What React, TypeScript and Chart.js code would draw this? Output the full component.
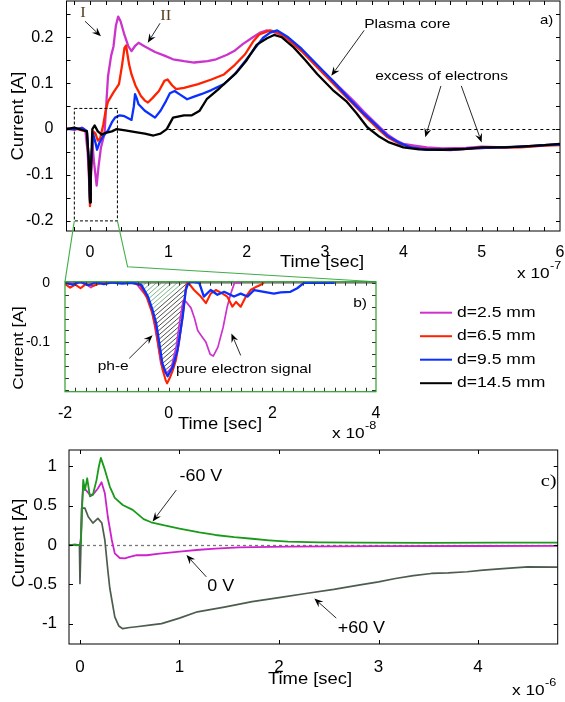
import React, { useEffect, useRef } from "react";
import { Chart, registerables } from "chart.js";
Chart.register(...registerables);

type P = [number, number];

const W = 565;
const H = 702;
const FONT = "'Liberation Sans', Arial, sans-serif";
const SERIF = "'Liberation Serif', 'Times New Roman', serif";

// ---------------- Panel a) time in units of 1e-7 s, current in A
const A_D25: P[] = [[-0.3,0.002],[-0.2,-0.002],[-0.1,0.003],[-0.06,-0.002],[-0.03,-0.05],[0,-0.15],[0.03,-0.03],[0.05,-0.07],[0.085,-0.123],[0.11,-0.08],[0.14,-0.04],[0.185,-0.01],[0.21,0.06],[0.23,0.115],[0.27,0.16],[0.3,0.18],[0.33,0.225],[0.36,0.245],[0.39,0.235],[0.44,0.205],[0.49,0.18],[0.53,0.17],[0.58,0.182],[0.62,0.188],[0.7,0.18],[0.83,0.168],[0.95,0.16],[1.06,0.152],[1.2,0.148],[1.33,0.145],[1.5,0.148],[1.61,0.152],[1.75,0.162],[1.84,0.17],[1.95,0.185],[2.07,0.199],[2.17,0.21],[2.26,0.215],[2.33,0.212],[2.45,0.205],[2.55,0.193],[2.67,0.177],[2.8,0.155],[2.99,0.123],[3.15,0.097],[3.36,0.062],[3.5,0.037],[3.68,0.007],[3.8,-0.012],[3.91,-0.025],[4.0,-0.032],[4.14,-0.036],[4.3,-0.04],[4.5,-0.042],[4.8,-0.041],[5.0,-0.038],[5.3,-0.04],[5.6,-0.038],[5.8,-0.035],[6.0,-0.033]];
const A_D65: P[] = [[-0.3,0.0],[-0.2,0.002],[-0.1,-0.003],[-0.04,-0.005],[-0.015,-0.08],[0.0,-0.168],[0.015,-0.08],[0.04,-0.005],[0.07,-0.01],[0.1,-0.025],[0.13,-0.02],[0.17,0.01],[0.2,0.04],[0.23,0.06],[0.3,0.08],[0.37,0.098],[0.41,0.14],[0.44,0.177],[0.46,0.182],[0.5,0.14],[0.53,0.119],[0.58,0.095],[0.65,0.072],[0.7,0.062],[0.74,0.058],[0.8,0.068],[0.88,0.083],[0.95,0.105],[0.99,0.108],[1.05,0.095],[1.1,0.087],[1.2,0.09],[1.38,0.098],[1.55,0.108],[1.71,0.119],[1.85,0.14],[1.98,0.163],[2.08,0.19],[2.16,0.206],[2.3,0.215],[2.4,0.21],[2.5,0.2],[2.7,0.17],[2.9,0.135],[3.1,0.1],[3.3,0.065],[3.5,0.03],[3.65,0.005],[3.8,-0.018],[3.95,-0.032],[4.1,-0.04],[4.3,-0.044],[4.6,-0.046],[4.9,-0.042],[5.2,-0.04],[5.5,-0.04],[5.8,-0.036],[6.0,-0.035]];
const A_D95: P[] = [[-0.3,0.0],[-0.2,0.0],[-0.1,0.002],[-0.04,-0.004],[-0.015,-0.07],[0.0,-0.155],[0.015,-0.07],[0.04,-0.01],[0.07,-0.03],[0.09,-0.045],[0.12,-0.03],[0.17,-0.015],[0.23,-0.003],[0.28,0.015],[0.32,0.025],[0.38,0.03],[0.44,0.028],[0.53,0.02],[0.56,0.05],[0.575,0.076],[0.6,0.065],[0.62,0.054],[0.7,0.04],[0.83,0.025],[0.9,0.04],[0.97,0.061],[1.02,0.078],[1.08,0.083],[1.15,0.075],[1.24,0.065],[1.32,0.07],[1.42,0.076],[1.55,0.085],[1.71,0.098],[1.85,0.12],[1.98,0.148],[2.1,0.175],[2.21,0.199],[2.3,0.21],[2.39,0.215],[2.53,0.2],[2.7,0.175],[2.9,0.14],[3.1,0.105],[3.3,0.068],[3.5,0.033],[3.64,0.011],[3.8,-0.015],[3.95,-0.03],[4.1,-0.04],[4.3,-0.045],[4.6,-0.045],[4.9,-0.042],[5.2,-0.04],[5.5,-0.038],[5.8,-0.035],[6.0,-0.034]];
const A_D145: P[] = [[-0.3,0.0],[-0.2,0.003],[-0.1,-0.002],[-0.04,-0.005],[-0.015,-0.07],[0.0,-0.16],[0.01,-0.1],[0.03,0.0],[0.06,0.008],[0.1,-0.005],[0.15,-0.012],[0.2,-0.008],[0.28,-0.005],[0.34,0.0],[0.45,-0.003],[0.6,-0.007],[0.7,-0.01],[0.81,-0.014],[0.9,-0.01],[0.98,0.0],[1.06,0.025],[1.2,0.03],[1.3,0.03],[1.4,0.04],[1.49,0.065],[1.66,0.09],[1.87,0.123],[2.0,0.15],[2.13,0.184],[2.26,0.198],[2.35,0.205],[2.45,0.2],[2.6,0.178],[2.75,0.15],[2.9,0.12],[3.1,0.085],[3.27,0.061],[3.4,0.035],[3.54,0.004],[3.68,-0.015],[3.82,-0.029],[4.0,-0.04],[4.2,-0.044],[4.5,-0.045],[4.8,-0.043],[5.0,-0.04],[5.3,-0.04],[5.6,-0.037],[5.8,-0.035],[6.0,-0.032]];
const A_X_RANGE = [-0.3, 6];
const A_Y_RANGE = [-0.222, 0.279];
const A_X_LABELS = [0, 1, 2, 3, 4, 5, 6];
const A_Y_LABELS = [-0.2, -0.1, 0, 0.1, 0.2];
const A_ZOOM_BOX = [-0.2, 0.35, -0.2, 0.045];
const A_ZERO_LINE = [1.0, 6];
const A_CONNECT_KINK: P = [0.48, -0.3];
const A_TEXT = [
  { t: "Plasma core", x: 3.5, y: 0.228 },
  { t: "excess of electrons", x: 3.64, y: 0.116 },
];
const A_ROMAN = [
  { t: "I", x: -0.09, y: 0.252 },
  { t: "II", x: 0.968, y: 0.246 },
];
const A_ARROWS = [
  [-0.064, 0.235, 0.14, 0.202],
  [0.894, 0.2305, 0.737, 0.188],
  [3.5, 0.215, 3.08, 0.116],
  [4.48, 0.094, 4.28, -0.018],
  [4.74, 0.094, 5.0, -0.029],
];

// ---------------- Panel b) time in units of 1e-8 s
const B_D25: P[] = [[-2,0.0],[-1.8,0.002],[-1.6,-0.002],[-1.5,-0.008],[-1.4,-0.002],[-1.2,0.001],[-1.0,0.0],[-0.8,0.0],[-0.63,0.0],[-0.53,-0.012],[-0.4,-0.025],[-0.34,-0.04],[-0.28,-0.068],[-0.21,-0.102],[-0.15,-0.136],[-0.08,-0.15],[-0.04,-0.152],[0.05,-0.143],[0.15,-0.105],[0.22,-0.06],[0.28,-0.03],[0.34,-0.032],[0.43,-0.042],[0.5,-0.06],[0.56,-0.08],[0.64,-0.09],[0.72,-0.1],[0.8,-0.12],[0.86,-0.123],[0.95,-0.108],[1.05,-0.075],[1.13,-0.04],[1.2,-0.018],[1.27,0.0],[1.4,0.0]];
const B_D65: P[] = [[-2,-0.002],[-1.9,-0.008],[-1.8,-0.003],[-1.7,-0.009],[-1.6,-0.002],[-1.45,-0.005],[-1.3,0.0],[-1.0,0.001],[-0.7,0.0],[-0.55,-0.004],[-0.42,-0.025],[-0.32,-0.05],[-0.25,-0.075],[-0.19,-0.11],[-0.12,-0.145],[-0.06,-0.163],[-0.03,-0.169],[0.02,-0.16],[0.08,-0.147],[0.14,-0.13],[0.2,-0.1],[0.27,-0.055],[0.33,-0.01],[0.36,0.002],[0.49,-0.012],[0.62,-0.023],[0.72,-0.034],[0.81,-0.018],[0.91,-0.012],[1.04,-0.018],[1.13,-0.023],[1.23,-0.04],[1.3,-0.032],[1.39,-0.04],[1.49,-0.023],[1.58,-0.012],[1.68,-0.007],[1.78,-0.003],[1.84,0.0]];
const B_D95: P[] = [[-2,0.0],[-1.85,-0.003],[-1.7,0.002],[-1.55,-0.004],[-1.4,0.001],[-1.25,-0.002],[-1.1,0.001],[-0.9,-0.001],[-0.7,0.0],[-0.53,-0.003],[-0.4,-0.023],[-0.31,-0.046],[-0.24,-0.068],[-0.18,-0.102],[-0.12,-0.136],[-0.05,-0.152],[-0.02,-0.157],[0.08,-0.141],[0.17,-0.113],[0.27,-0.057],[0.33,-0.012],[0.38,0.0],[0.45,0.002],[0.59,0.0],[0.68,-0.023],[0.81,-0.012],[0.94,-0.02],[1.07,-0.015],[1.26,-0.023],[1.39,-0.018],[1.52,-0.023],[1.65,-0.012],[1.84,-0.015],[2.03,-0.018],[2.16,-0.016],[2.35,-0.015],[2.48,-0.009],[2.61,0.0],[3.2,0.0]];
const B_X_RANGE = [-2, 4];
const B_Y_RANGE = [-0.183, 0.002];
const B_X_LABELS = [-2, 0, 2, 4];
const B_Y_LABELS = [-0.1, 0];
const B_HATCH_X = [-0.56, 0.36];
const B_HATCH_GREEN: P[] = [[-0.6, 0], [0.3, 0], [-0.3, -0.045]];
const B_TEXT = [
  { t: "ph-e", x: -1.37, y: -0.141 },
  { t: "pure electron signal", x: 0.14, y: -0.145 },
  { t: "b)", x: 3.56, y: -0.034 },
];
const B_ARROWS = [
  [-0.76, -0.127, -0.31, -0.088],
  [1.39, -0.122, 1.21, -0.085],
];
const LEGEND_LABELS = ["d=2.5 mm", "d=6.5 mm", "d=9.5 mm", "d=14.5 mm"];
const SERIES_COLORS = ["#cc33cc", "#ff2200", "#0a30ff", "#000000"];

// ---------------- Panel c) time in units of 1e-6 s
const C_M60: P[] = [[-0.11,0.0],[-0.05,0.005],[0.0,0.0],[0.01,0.05],[0.017,0.28],[0.025,0.6],[0.033,0.83],[0.05,0.7],[0.073,0.85],[0.1,0.62],[0.13,0.64],[0.167,0.83],[0.19,1.0],[0.21,1.11],[0.25,0.96],[0.3,0.745],[0.35,0.6],[0.43,0.51],[0.53,0.447],[0.64,0.33],[0.715,0.29],[0.85,0.25],[1.0,0.21],[1.2,0.16],[1.36,0.128],[1.55,0.1],[1.73,0.08],[1.9,0.06],[2.09,0.043],[2.4,0.035],[2.8,0.03],[3.5,0.028],[4.2,0.03],[4.8,0.03]];
const C_0V: P[] = [[-0.11,0.0],[0.0,0.0],[0.01,0.1],[0.02,0.5],[0.033,0.745],[0.06,0.7],[0.1,0.64],[0.13,0.64],[0.18,0.72],[0.217,0.8],[0.25,0.66],[0.28,0.36],[0.32,0.064],[0.35,-0.106],[0.4,-0.165],[0.45,-0.17],[0.5,-0.15],[0.57,-0.13],[0.67,-0.13],[0.8,-0.11],[1.0,-0.085],[1.2,-0.06],[1.36,-0.045],[1.6,-0.03],[2.09,-0.02],[3.0,-0.015],[4.0,-0.012],[4.8,-0.01]];
const C_P60: P[] = [[-0.11,0.0],[-0.05,0.005],[-0.005,0.0],[0.0,-0.49],[0.008,-0.1],[0.017,0.47],[0.05,0.47],[0.083,0.36],[0.13,0.28],[0.18,0.34],[0.22,0.28],[0.25,0.064],[0.28,-0.32],[0.3,-0.55],[0.35,-0.915],[0.39,-1.03],[0.43,-1.065],[0.5,-1.05],[0.57,-1.04],[0.7,-1.02],[0.82,-1.0],[1.0,-0.93],[1.18,-0.85],[1.45,-0.79],[1.73,-0.72],[2.0,-0.67],[2.27,-0.617],[2.55,-0.565],[2.8,-0.51],[3.0,-0.47],[3.17,-0.426],[3.35,-0.39],[3.53,-0.362],[3.7,-0.355],[3.89,-0.34],[4.05,-0.32],[4.25,-0.3],[4.5,-0.277],[4.8,-0.28]];
const C_X_RANGE = [-0.11, 4.8];
const C_Y_RANGE = [-1.26, 1.21];
const C_X_LABELS = [0, 1, 2, 3, 4];
const C_Y_LABELS = [-1, -0.5, 0, 0.5, 1];
const C_TEXT = [
  { t: "-60 V", x: 1.0, y: 0.872 },
  { t: "0 V", x: 1.28, y: -0.533 },
  { t: "+60 V", x: 2.59, y: -1.06 },
];
const C_PANEL_LABEL = { t: "c)", x: 4.63, y: 0.81 };
const C_ARROWS = [
  [0.968, 0.7, 0.73, 0.3],
  [1.27, -0.405, 1.07, -0.128],
  [2.575, -0.93, 2.355, -0.68],
];

// ---------------- helpers
function txt(ctx: CanvasRenderingContext2D, s: string, x: number, y: number, font: string, opts: any = {}) {
  ctx.save();
  ctx.translate(x, y);
  if (opts.rot) ctx.rotate(opts.rot);
  ctx.scale(opts.sx ?? 1.15, 1);
  ctx.font = font;
  ctx.fillStyle = opts.color ?? "#000";
  ctx.textAlign = opts.align ?? "left";
  ctx.textBaseline = opts.baseline ?? "middle";
  ctx.fillText(s, 0, 0);
  ctx.restore();
}

function arrow(ctx: CanvasRenderingContext2D, x1: number, y1: number, x2: number, y2: number) {
  const a = Math.atan2(y2 - y1, x2 - x1);
  const head = 9, hw = 3.6;
  const c = Math.cos(a), s = Math.sin(a);
  ctx.save();
  ctx.strokeStyle = "#111";
  ctx.fillStyle = "#000";
  ctx.lineWidth = 0.9;
  ctx.beginPath();
  ctx.moveTo(x1, y1);
  ctx.lineTo(x2 - head * 0.7 * c, y2 - head * 0.7 * s);
  ctx.stroke();
  ctx.beginPath();
  ctx.moveTo(x2, y2);
  ctx.lineTo(x2 - head * c + hw * s, y2 - head * s - hw * c);
  ctx.lineTo(x2 - head * 0.65 * c, y2 - head * 0.65 * s);
  ctx.lineTo(x2 - head * c - hw * s, y2 - head * s + hw * c);
  ctx.closePath();
  ctx.fill();
  ctx.restore();
}

function frame(chart: any, color: string, tickColor: string, tickLen = 4, lw = 1) {
  const { ctx, chartArea: ca, scales } = chart;
  ctx.save();
  ctx.strokeStyle = tickColor;
  ctx.lineWidth = 1;
  ctx.beginPath();
  for (const t of scales.x.ticks) {
    const px = Math.round(scales.x.getPixelForValue(t.value)) + 0.5;
    if (px < ca.left + 1 || px > ca.right - 1) continue;
    ctx.moveTo(px, ca.bottom); ctx.lineTo(px, ca.bottom - tickLen);
    ctx.moveTo(px, ca.top); ctx.lineTo(px, ca.top + tickLen);
  }
  for (const t of scales.y.ticks) {
    const py = Math.round(scales.y.getPixelForValue(t.value)) + 0.5;
    if (py < ca.top + 1 || py > ca.bottom - 1) continue;
    ctx.moveTo(ca.left, py); ctx.lineTo(ca.left + tickLen, py);
    ctx.moveTo(ca.right, py); ctx.lineTo(ca.right - tickLen, py);
  }
  ctx.stroke();
  ctx.strokeStyle = color;
  ctx.lineWidth = lw;
  ctx.strokeRect(ca.left, ca.top, ca.right - ca.left, ca.bottom - ca.top);
  ctx.restore();
}

function expLabel(ctx: CanvasRenderingContext2D, x: number, y: number, exp: string) {
  txt(ctx, "x 10", x, y, `15px ${FONT}`, { baseline: "alphabetic" });
  txt(ctx, exp, x + 33, y - 9, `11px ${FONT}`, { baseline: "alphabetic" });
}

function axis(range: number[], step: number, labels: number[], pad: number, isX: boolean, size: number) {
  return {
    type: "linear",
    min: range[0],
    max: range[1],
    grid: { display: false },
    border: { display: false },
    afterBuildTicks: (s: any) => {
      const out: any[] = [];
      const n0 = Math.ceil(s.min / step - 1e-9);
      const n1 = Math.floor(s.max / step + 1e-9);
      for (let i = n0; i <= n1; i++) out.push({ value: +(i * step).toFixed(6) });
      s.ticks = out;
    },
    afterFit: (s: any) => {
      if (isX) s.height = 30; else s.width = 50;
      s.paddingLeft = 0; s.paddingRight = 0; s.paddingTop = 0; s.paddingBottom = 0;
    },
    ticks: {
      autoSkip: false,
      maxRotation: 0,
      minRotation: 0,
      padding: pad,
      color: "#000",
      font: { family: FONT, size },
      callback: (v: number) => (labels.some((m) => Math.abs(m - v) < 1e-9) ? String(+Number(v).toFixed(4)) : ""),
    },
  };
}

function ds(points: P[], color: string, width: number, order: number) {
  return {
    data: points.map(([x, y]) => ({ x, y })),
    borderColor: color,
    borderWidth: width,
    pointRadius: 0,
    tension: 0,
    fill: false,
    order,
    borderJoinStyle: "round",
  };
}

function config(datasets: any[], area: number[], scales: any, plugin: any) {
  const [l, t, r, b] = area;
  return {
    type: "line",
    data: { datasets },
    options: {
      animation: false,
      responsive: false,
      events: [],
      layout: { padding: { left: l - 50, top: t, right: W - r, bottom: H - b - 30 } },
      plugins: { legend: { display: false }, tooltip: { enabled: false } },
      scales,
    },
    plugins: [plugin],
  } as any;
}

export default function App() {
  const refA = useRef<HTMLCanvasElement>(null);
  const refB = useRef<HTMLCanvasElement>(null);
  const refC = useRef<HTMLCanvasElement>(null);

  useEffect(() => {
    // ---------- panel a
    const pluginA = {
      id: "panelA",
      beforeDatasetsDraw(chart: any) {
        const { ctx, scales } = chart;
        const X = (v: number) => scales.x.getPixelForValue(v);
        const Y = (v: number) => scales.y.getPixelForValue(v);
        ctx.save();
        ctx.strokeStyle = "#000";
        ctx.lineWidth = 1;
        ctx.setLineDash([3, 3]);
        ctx.beginPath();
        ctx.moveTo(X(A_ZERO_LINE[0]), Math.round(Y(0)) + 0.5);
        ctx.lineTo(X(A_ZERO_LINE[1]), Math.round(Y(0)) + 0.5);
        ctx.stroke();
        ctx.restore();
      },
      afterDraw(chart: any) {
        const { ctx, scales, chartArea: ca } = chart;
        const X = (v: number) => scales.x.getPixelForValue(v);
        const Y = (v: number) => scales.y.getPixelForValue(v);
        ctx.save();
        ctx.strokeStyle = "#000";
        ctx.lineWidth = 1;
        ctx.setLineDash([3, 2]);
        const [bx0, bx1, by0, by1] = A_ZOOM_BOX;
        ctx.strokeRect(X(bx0), Y(by1), X(bx1) - X(bx0), Y(by0) - Y(by1));
        ctx.restore();
        frame(chart, "#000", "#000");
        for (const a of A_TEXT) txt(ctx, a.t, X(a.x), Y(a.y), `13.5px ${FONT}`);
        for (const a of A_ROMAN) txt(ctx, a.t, X(a.x), Y(a.y), `15px ${SERIF}`, { align: "center", color: "#5a3c1e", sx: 1.1 });
        txt(ctx, "a)", ca.right - 20, ca.top + 19, `13px ${FONT}`);
        for (const a of A_ARROWS) arrow(ctx, X(a[0]), Y(a[1]), X(a[2]), Y(a[3]));
        txt(ctx, "Current [A]", 19, (ca.top + ca.bottom) / 2, `16px ${FONT}`, { rot: -Math.PI / 2, align: "center" });
        txt(ctx, "Time [sec]", 322, ca.bottom + 32, `16px ${FONT}`, { align: "center" });
        expLabel(ctx, 517, ca.bottom + 47, "-7");
      },
    };
    const chartA = new Chart(
      refA.current as HTMLCanvasElement,
      config(
        [
          ds(A_D25, SERIES_COLORS[0], 2.3, 3),
          ds(A_D65, SERIES_COLORS[1], 2.3, 2),
          ds(A_D95, SERIES_COLORS[2], 2.3, 1),
          ds(A_D145, SERIES_COLORS[3], 2.3, 0),
        ],
        [66.5, 1, 560, 231],
        { x: axis(A_X_RANGE, 0.2, A_X_LABELS, 4, true, 16), y: axis(A_Y_RANGE, 0.05, A_Y_LABELS, 5, false, 16) },
        pluginA
      )
    );

    // ---------- panel b
    const pluginB = {
      id: "panelB",
      beforeDatasetsDraw(chart: any) {
        const { ctx, scales } = chart;
        const X = (v: number) => scales.x.getPixelForValue(v);
        const Y = (v: number) => scales.y.getPixelForValue(v);
        const pts = B_D95.filter((p) => p[0] >= B_HATCH_X[0] && p[0] <= B_HATCH_X[1]);
        const top = Y(0);
        const bot = scales.y.bottom;
        const xs0 = X(B_HATCH_X[0]) - 150;
        const xs1 = X(B_HATCH_X[1]) + 10;
        const lines = (color: string) => {
          ctx.strokeStyle = color;
          ctx.lineWidth = 0.8;
          ctx.beginPath();
          for (let x = xs0; x < xs1; x += 5.2) {
            ctx.moveTo(x, bot);
            ctx.lineTo(x + (bot - top) * 1.15, top);
          }
          ctx.stroke();
        };
        const tri = () => {
          B_HATCH_GREEN.forEach((p, i) => (i ? ctx.lineTo(X(p[0]), Y(p[1])) : ctx.moveTo(X(p[0]), Y(p[1]))));
          ctx.closePath();
        };
        ctx.save();
        ctx.beginPath();
        ctx.moveTo(X(B_HATCH_X[0]), top);
        pts.forEach((p) => ctx.lineTo(X(p[0]), Y(p[1])));
        ctx.lineTo(X(B_HATCH_X[1]), top);
        ctx.closePath();
        ctx.clip();
        ctx.save();
        ctx.beginPath();
        tri();
        ctx.clip();
        lines("#5f9f70");
        ctx.restore();
        ctx.beginPath();
        ctx.rect(0, 0, W, H);
        tri();
        ctx.clip("evenodd");
        lines("#222");
        ctx.restore();
        ctx.save();
        ctx.strokeStyle = "#555";
        ctx.lineWidth = 1.2;
        ctx.beginPath();
        ctx.moveTo(scales.x.left, top);
        ctx.lineTo(scales.x.right, top);
        ctx.stroke();
        ctx.restore();
      },
      afterDraw(chart: any) {
        const { ctx, scales, chartArea: ca } = chart;
        const X = (v: number) => scales.x.getPixelForValue(v);
        const Y = (v: number) => scales.y.getPixelForValue(v);
        const ax = (v: number) => chartA.scales.x.getPixelForValue(v);
        const ay = (v: number) => chartA.scales.y.getPixelForValue(v);
        ctx.save();
        ctx.strokeStyle = "#3fae48";
        ctx.lineWidth = 1.1;
        ctx.beginPath();
        ctx.moveTo(ax(A_ZOOM_BOX[0]), ay(A_ZOOM_BOX[2]));
        ctx.lineTo(ca.left, ca.top);
        ctx.moveTo(ax(A_ZOOM_BOX[1]), ay(A_ZOOM_BOX[2]));
        ctx.lineTo(ax(A_CONNECT_KINK[0]), ay(A_CONNECT_KINK[1]));
        ctx.lineTo(ca.right, ca.top);
        ctx.stroke();
        ctx.restore();
        frame(chart, "#2e9e2e", "#333", 4, 1.2);
        for (const a of B_TEXT) txt(ctx, a.t, X(a.x), Y(a.y), `13.5px ${FONT}`);
        for (const a of B_ARROWS) arrow(ctx, X(a[0]), Y(a[1]), X(a[2]), Y(a[3]));
        txt(ctx, "Current [A]", 19, 348, `15px ${FONT}`, { rot: -Math.PI / 2, align: "center" });
        txt(ctx, "Time [sec]", 220, ca.bottom + 33, `16px ${FONT}`, { align: "center" });
        expLabel(ctx, 332, ca.bottom + 46, "-8");
        LEGEND_LABELS.forEach((lab, i) => {
          const y = ca.top + 31 + i * 23.5;
          const x = ca.right + 44;
          ctx.save();
          ctx.strokeStyle = SERIES_COLORS[i];
          ctx.lineWidth = 2;
          ctx.beginPath();
          ctx.moveTo(x, y);
          ctx.lineTo(x + 32, y);
          ctx.stroke();
          ctx.restore();
          txt(ctx, lab, x + 37, y, `15px ${FONT}`, { sx: 1.17 });
        });
      },
    };
    const chartB = new Chart(
      refB.current as HTMLCanvasElement,
      config(
        [
          ds(B_D25, SERIES_COLORS[0], 1.7, 2),
          ds(B_D65, SERIES_COLORS[1], 2.1, 1),
          ds(B_D95, SERIES_COLORS[2], 2.3, 0),
        ],
        [65, 281.7, 376, 391.7],
        { x: axis(B_X_RANGE, 0.2, B_X_LABELS, 4, true, 16), y: axis(B_Y_RANGE, 0.02, B_Y_LABELS, 7, false, 14) },
        pluginB
      )
    );

    // ---------- panel c
    const pluginC = {
      id: "panelC",
      beforeDatasetsDraw(chart: any) {
        const { ctx, scales } = chart;
        const y0 = Math.round(scales.y.getPixelForValue(0)) + 0.5;
        ctx.save();
        ctx.strokeStyle = "#777";
        ctx.lineWidth = 1.3;
        ctx.setLineDash([3, 3]);
        ctx.beginPath();
        ctx.moveTo(scales.x.left, y0);
        ctx.lineTo(scales.x.right, y0);
        ctx.stroke();
        ctx.restore();
      },
      afterDraw(chart: any) {
        const { ctx, scales, chartArea: ca } = chart;
        const X = (v: number) => scales.x.getPixelForValue(v);
        const Y = (v: number) => scales.y.getPixelForValue(v);
        frame(chart, "#000", "#000");
        for (const a of C_TEXT) txt(ctx, a.t, X(a.x), Y(a.y), `16px ${FONT}`, { sx: 1.12 });
        txt(ctx, C_PANEL_LABEL.t, X(C_PANEL_LABEL.x), Y(C_PANEL_LABEL.y), `17px ${SERIF}`, { sx: 1.2 });
        for (const a of C_ARROWS) arrow(ctx, X(a[0]), Y(a[1]), X(a[2]), Y(a[3]));
        txt(ctx, "Current [A]", 20, 543, `16px ${FONT}`, { rot: -Math.PI / 2, align: "center" });
        txt(ctx, "Time [sec]", 310, ca.bottom + 36, `16px ${FONT}`, { align: "center" });
        expLabel(ctx, 512, ca.bottom + 51, "-6");
      },
    };
    const chartC = new Chart(
      refC.current as HTMLCanvasElement,
      config(
        [
          ds(C_P60, "#4d5d4d", 1.7, 2),
          ds(C_0V, "#cc22cc", 1.8, 1),
          ds(C_M60, "#1a9a1a", 1.8, 0),
        ],
        [69, 450, 557.7, 644],
        { x: axis(C_X_RANGE, 1, C_X_LABELS, 5, true, 17), y: axis(C_Y_RANGE, 0.5, C_Y_LABELS, 4, false, 17) },
        pluginC
      )
    );

    return () => {
      chartC.destroy();
      chartB.destroy();
      chartA.destroy();
    };
  }, []);

  const cs: React.CSSProperties = { position: "absolute", left: 0, top: 0, width: W, height: H, pointerEvents: "none" };
  return (
    <div style={{ position: "absolute", left: 0, top: 0, width: W, height: H, background: "#fff", overflow: "hidden" }}>
      <canvas ref={refA} width={W} height={H} style={cs} />
      <canvas ref={refB} width={W} height={H} style={cs} />
      <canvas ref={refC} width={W} height={H} style={cs} />
    </div>
  );
}
